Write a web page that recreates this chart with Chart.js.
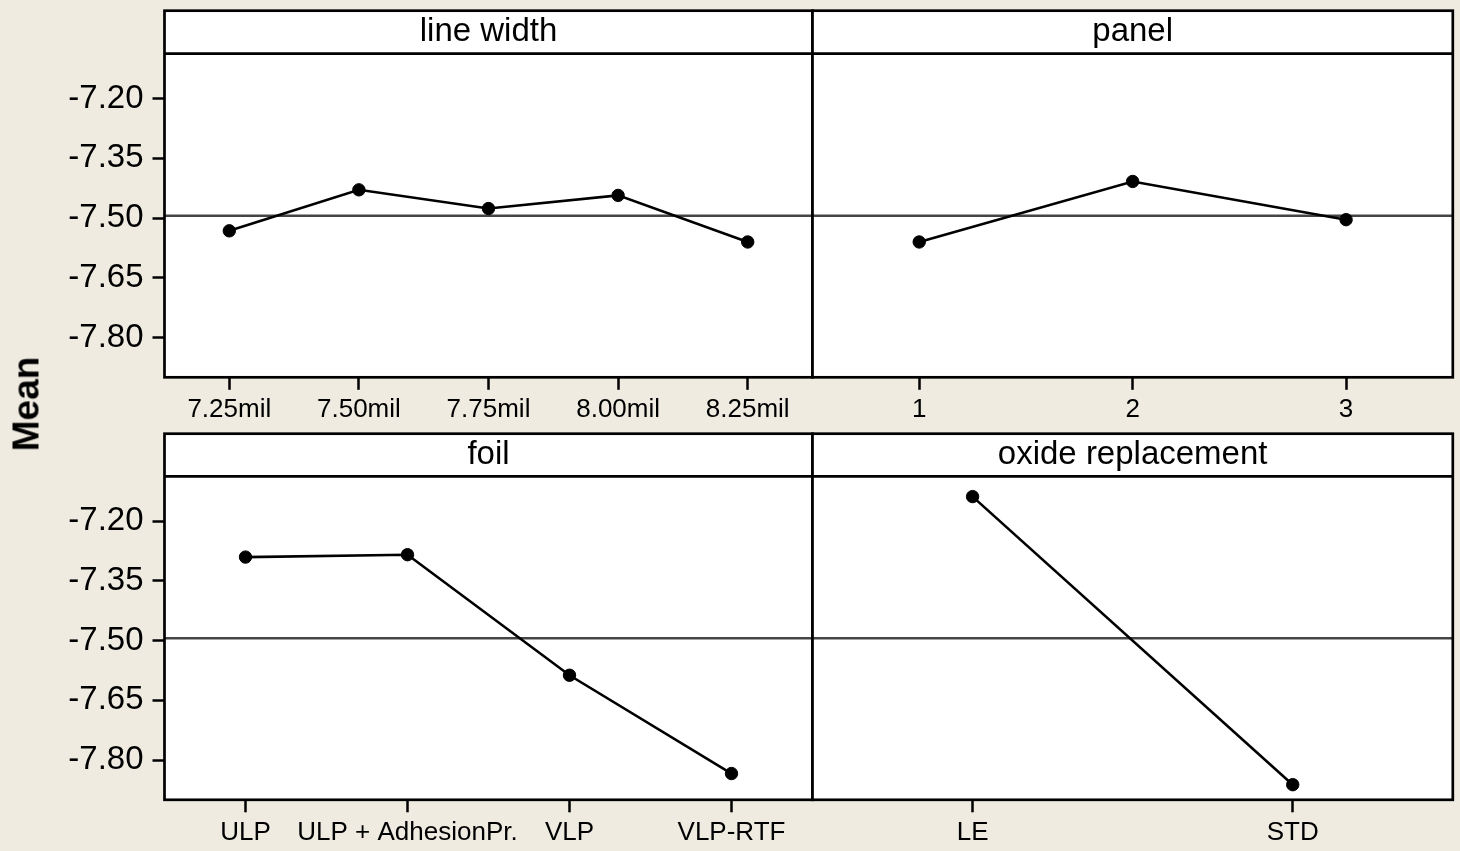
<!DOCTYPE html>
<html>
<head>
<meta charset="utf-8">
<title>Main Effects Plot for Means</title>
<script src="https://cdn.jsdelivr.net/npm/chart.js@4.4.1/dist/chart.umd.min.js"></script>
<style>
  html, body { margin: 0; padding: 0; background: #EFEBE1; }
  #fig { position: relative; width: 1460px; height: 851px; background: #EFEBE1; overflow: hidden; }
  #fig canvas { position: absolute; }
  #ylab {
    position: absolute; left: 25.5px; top: 404px;
    transform: translate(-50%, -50%) rotate(-90deg);
    font: bold 37px "Liberation Sans", Arial, sans-serif;
    color: #000; white-space: nowrap; line-height: 1;
  }
</style>
</head>
<body>
<div id="fig">
  <canvas id="p-linewidth"></canvas>
  <canvas id="p-panel"></canvas>
  <canvas id="p-foil"></canvas>
  <canvas id="p-oxide"></canvas>
  <div id="ylab">Mean</div>
</div>
<script>
// ---- factor levels and the mean response at each level ----
const LINE_WIDTH_LEVELS = ['7.25mil', '7.50mil', '7.75mil', '8.00mil', '8.25mil'];
const LINE_WIDTH_MEANS  = [-7.532, -7.429, -7.476, -7.443, -7.560];

const PANEL_LEVELS = ['1', '2', '3'];
const PANEL_MEANS  = [-7.560, -7.408, -7.504];

const FOIL_LEVELS = ['ULP', 'ULP + AdhesionPr.', 'VLP', 'VLP-RTF'];
const FOIL_MEANS  = [-7.290, -7.284, -7.587, -7.834];

const OXIDE_LEVELS = ['LE', 'STD'];
const OXIDE_MEANS  = [-7.138, -7.862];

// overall mean (reference line in every panel)
const GRAND_MEAN = -7.494;

// shared y axis
const Y_TICKS = [-7.20, -7.35, -7.50, -7.65, -7.80];
const Y_MIN = -7.900;
const Y_MAX = -7.087;

// ---- page geometry of the panel grid ----
const FONT = '"Liberation Sans", Arial, Helvetica, sans-serif';
const FRAME_X = { left: 164.5, mid: 812.5, right: 1457 };
const ROWS = [
  { canvasTop: 0,   canvasH: 425, top: 10.7,  strip: 53.7,  bottom: 377.3 },
  { canvasTop: 425, canvasH: 426, top: 433.7, strip: 476.3, bottom: 799.8 }
];
const COLS = [
  { canvasLeft: 0,   canvasW: 830, x0: FRAME_X.left, x1: FRAME_X.mid,   yAxis: true  },
  { canvasLeft: 800, canvasW: 660, x0: FRAME_X.mid,  x1: FRAME_X.right, yAxis: false }
];

Chart.defaults.font.family = FONT;
Chart.defaults.color = '#000';

// white panel + strip background, grand-mean line, and black frame
const panelFrame = {
  id: 'panelFrame',
  beforeDraw(chart) {
    const { ctx, chartArea: a } = chart;
    const top = chart.titleBlock.top;
    ctx.save();
    ctx.fillStyle = '#FFFFFF';
    ctx.fillRect(a.left, top, a.right - a.left, a.bottom - top);
    ctx.restore();
  },
  beforeDatasetsDraw(chart, args, opts) {
    const { ctx, chartArea: a, scales } = chart;
    const y = scales.y.getPixelForValue(opts.mean);
    ctx.save();
    ctx.strokeStyle = '#454545';
    ctx.lineWidth = 2.4;
    ctx.beginPath();
    ctx.moveTo(a.left, y);
    ctx.lineTo(a.right, y);
    ctx.stroke();
    ctx.restore();
  },
  afterDraw(chart) {
    const { ctx, chartArea: a } = chart;
    const top = chart.titleBlock.top;
    ctx.save();
    ctx.strokeStyle = '#000';
    ctx.lineWidth = 2.7;
    ctx.strokeRect(a.left, top, a.right - a.left, a.bottom - top);
    ctx.beginPath();
    ctx.moveTo(a.left, a.top);
    ctx.lineTo(a.right, a.top);
    ctx.stroke();
    ctx.restore();
  }
};

function makePanel(id, title, levels, means, row, col) {
  const R = ROWS[row], C = COLS[col];
  const canvas = document.getElementById(id);
  canvas.width = C.canvasW;
  canvas.height = R.canvasH;
  canvas.style.left = C.canvasLeft + 'px';
  canvas.style.top = R.canvasTop + 'px';
  canvas.style.width = C.canvasW + 'px';
  canvas.style.height = R.canvasH + 'px';

  const stripH = R.strip - R.top;
  const titleSize = 33, titleLH = 1.2;
  const titlePad = (stripH - titleSize * titleLH) / 2;
  const xAxisH = R.canvasTop + R.canvasH - R.bottom;
  const yAxisW = C.x0 - C.canvasLeft;

  const yScale = C.yAxis ? {
    type: 'linear', min: Y_MIN, max: Y_MAX,
    afterBuildTicks: s => { s.ticks = Y_TICKS.map(v => ({ value: v })); },
    afterFit: s => { s.width = yAxisW; },
    grid: { drawOnChartArea: false, drawTicks: true, tickLength: 12, tickColor: '#000', tickWidth: 2.5 },
    border: { display: false },
    ticks: { color: '#000', font: { size: 33 }, padding: 9, callback: v => Number(v).toFixed(2) }
  } : { type: 'linear', min: Y_MIN, max: Y_MAX, display: false };

  return new Chart(canvas, {
    type: 'line',
    data: {
      labels: levels,
      datasets: [{
        data: means,
        borderColor: '#000',
        borderWidth: 2.6,
        pointRadius: 6.2,
        pointBorderWidth: 1,
        pointBackgroundColor: '#000',
        pointBorderColor: '#000',
        tension: 0,
        fill: false
      }]
    },
    options: {
      responsive: false,
      animation: false,
      events: [],
      layout: {
        padding: {
          top: R.top - R.canvasTop,
          bottom: 0,
          left: C.yAxis ? 0 : C.x0 - C.canvasLeft,
          right: C.canvasLeft + C.canvasW - C.x1
        }
      },
      scales: {
        x: {
          type: 'category', labels: levels, offset: true,
          afterFit: s => { s.height = xAxisH; },
          grid: { display: true, offset: false, drawOnChartArea: false, drawTicks: true,
                  tickLength: 12.5, tickColor: '#000', tickWidth: 2.5 },
          border: { display: false },
          ticks: { color: '#000', font: { size: 26 }, padding: 4.5,
                   autoSkip: false, maxRotation: 0, minRotation: 0 }
        },
        y: yScale
      },
      plugins: {
        legend: { display: false },
        tooltip: { enabled: false },
        title: {
          display: true, text: title, fullSize: false, color: '#000',
          font: { size: titleSize, weight: 'normal', lineHeight: titleLH },
          padding: { top: titlePad, bottom: titlePad }
        },
        panelFrame: { mean: GRAND_MEAN }
      }
    },
    plugins: [panelFrame]
  });
}

makePanel('p-linewidth', 'line width', LINE_WIDTH_LEVELS, LINE_WIDTH_MEANS, 0, 0);
makePanel('p-panel', 'panel', PANEL_LEVELS, PANEL_MEANS, 0, 1);
makePanel('p-foil', 'foil', FOIL_LEVELS, FOIL_MEANS, 1, 0);
makePanel('p-oxide', 'oxide replacement', OXIDE_LEVELS, OXIDE_MEANS, 1, 1);
</script>
</body>
</html>
